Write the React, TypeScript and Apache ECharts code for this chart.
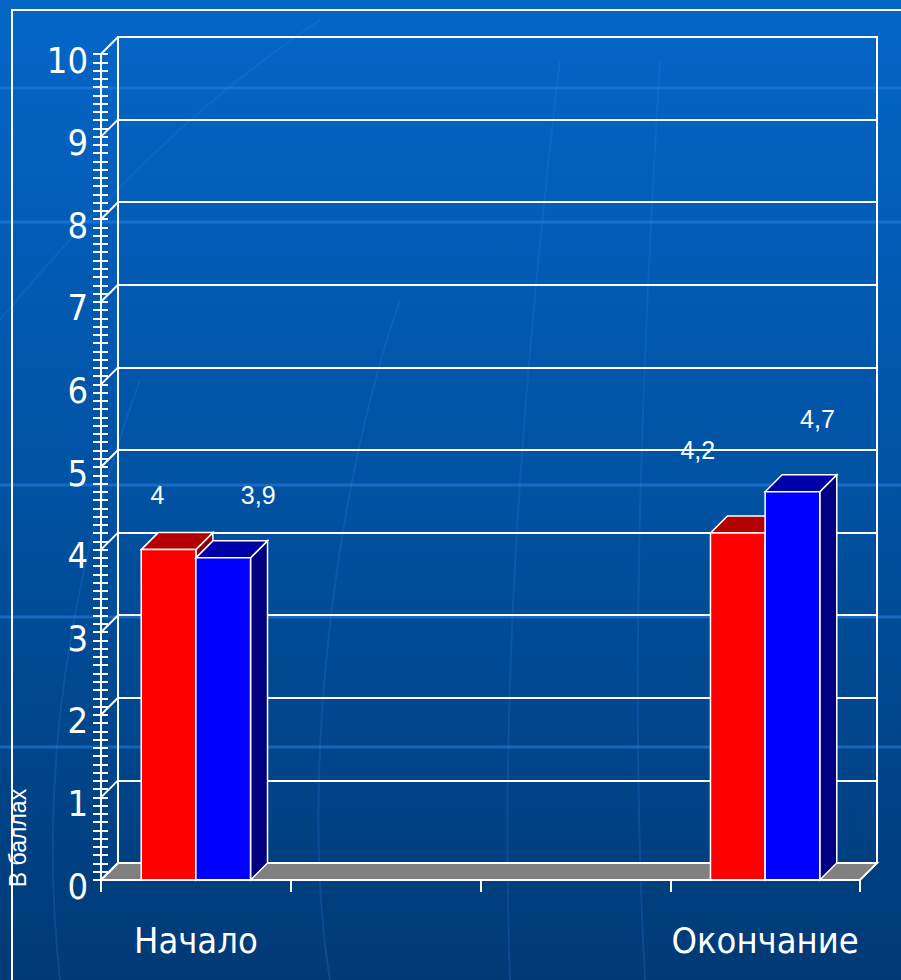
import React, { useEffect, useRef } from "react";
import * as echarts from "echarts";

// ---- data ----
const categories = ["Начало", "", "", "Окончание"];
const redValues: (number | null)[] = [4, null, null, 4.2];
const blueValues: (number | null)[] = [3.9, null, null, 4.7];
const yAxisTitle = "В баллах";

// ---- layout / style ----
const DEPTH = 17;
const NARROW = "'Liberation Sans Narrow', 'DejaVu Sans Condensed', 'Arial Narrow', sans-serif";
const ARIAL = "'Liberation Sans', Arial, sans-serif";
// hand-placed label nudges (pixels, relative to bar's top-front centre)
const redLabelDx = [-11, 0, 0, -40];
const redLabelDy = [-55, 0, 0, -83];
const blueLabelDx = [35, 0, 0, 25];
const blueLabelDy = [-63, 0, 0, -73];

const fmt = (v: number) => String(v).replace(".", ",");

function barSeries(
  name: string,
  values: (number | null)[],
  side: number,
  front: string,
  top: string,
  sideColor: string,
  dx: number[],
  dy: number[]
) {
  const data = values
    .map((v, i) => (v == null ? null : [i, v]))
    .filter((d) => d !== null);
  return {
    name,
    type: "custom",
    xAxisIndex: 0,
    yAxisIndex: 0,
    z: 5,
    data,
    renderItem: (params: any, api: any) => {
      const cat = api.value(0);
      const val = api.value(1);
      const p = api.coord([cat, val]);
      const p0 = api.coord([cat, 0]);
      const band = api.size([1, 0])[0];
      const w = band * 0.288;
      const cx = p[0];
      const yT = p[1];
      const yB = p0[1];
      const x0 = side === 0 ? cx - w : cx;
      const d = DEPTH;
      const stroke = { stroke: "#ffffff", lineWidth: 1.5 };
      return {
        type: "group",
        children: [
          {
            type: "polygon",
            shape: { points: [[x0 + w, yT], [x0 + w + d, yT - d], [x0 + w + d, yB - d], [x0 + w, yB]] },
            style: { fill: sideColor, ...stroke },
          },
          {
            type: "polygon",
            shape: { points: [[x0, yT], [x0 + d, yT - d], [x0 + w + d, yT - d], [x0 + w, yT]] },
            style: { fill: top, ...stroke },
          },
          {
            type: "rect",
            shape: { x: x0, y: yT, width: w, height: yB - yT },
            style: { fill: front, ...stroke },
          },
          {
            type: "text",
            style: {
              text: fmt(val),
              x: x0 + w / 2 + dx[cat],
              y: yT + dy[cat],
              fill: "#ffffff",
              fontSize: 25,
              fontFamily: ARIAL,
              align: "center",
              verticalAlign: "middle",
            },
          },
        ],
      };
    },
  };
}

export default function App() {
  const ref = useRef<HTMLDivElement>(null);
  useEffect(() => {
    if (!ref.current) return;
    const chart = echarts.init(ref.current, undefined, { renderer: "svg" });

    const frameSeries = {
      type: "custom",
      xAxisIndex: 0,
      yAxisIndex: 0,
      z: 3,
      silent: true,
      data: [[0, 0]],
      renderItem: (params: any, api: any) => {
        const cs = params.coordSys;
        const left = cs.x;
        const right = cs.x + cs.width;
        const bottom = cs.y + cs.height;
        const d = DEPTH;
        const children: any[] = [
          {
            type: "polygon",
            shape: { points: [[left, bottom], [right, bottom], [right + d, bottom - d], [left + d, bottom - d]] },
            style: { fill: "#808080", stroke: "#ffffff", lineWidth: 2 },
          },
        ];
        for (let k = 0; k <= 10; k++) {
          const y = api.coord([0, k])[1];
          children.push({
            type: "line",
            shape: { x1: left, y1: y, x2: left + d, y2: y - d },
            style: { stroke: "#ffffff", lineWidth: 2 },
          });
        }
        return { type: "group", children };
      },
    };

    const decoLines = [88, 222, 485, 617, 747].map((y) => ({
      type: "line",
      silent: true,
      z: -10,
      shape: { x1: 0, y1: y, x2: 901, y2: y },
      style: { stroke: "rgba(40,130,230,0.55)", lineWidth: 3 },
    }));
    const decoCurves = [
      { x1: 60, y1: 980, cpx1: 40, cpy1: 800, cpx2: 60, cpy2: 600, x2: 140, y2: 380 },
      { x1: 645, y1: 980, cpx1: 630, cpy1: 700, cpx2: 640, cpy2: 400, x2: 660, y2: 60 },
      { x1: 510, y1: 980, cpx1: 500, cpy1: 700, cpx2: 520, cpy2: 400, x2: 560, y2: 60 },
      { x1: 0, y1: 320, cpx1: 100, cpy1: 200, cpx2: 200, cpy2: 100, x2: 320, y2: 20 },
      { x1: 330, y1: 980, cpx1: 300, cpy1: 800, cpx2: 330, cpy2: 500, x2: 400, y2: 300 },
    ].map((s) => ({
      type: "bezierCurve",
      silent: true,
      z: -10,
      shape: s,
      style: { stroke: "rgba(40,130,230,0.22)", lineWidth: 2, fill: "none" },
    }));

    chart.setOption({
      animation: false,
      backgroundColor: new echarts.graphic.LinearGradient(0, 0, 0, 1, [
        { offset: 0, color: "#0566c8" },
        { offset: 0.5, color: "#0052a2" },
        { offset: 1, color: "#003a76" },
      ]),
      graphic: [
        ...decoLines,
        ...decoCurves,
        {
          type: "polyline",
          silent: true,
          z: 100,
          shape: { points: [[12, 980], [12, 10], [901, 10]] },
          style: { stroke: "#ffffff", lineWidth: 2, fill: "none" },
        },
        {
          type: "text",
          silent: true,
          z: 100,
          x: 18,
          y: 838,
          rotation: Math.PI / 2,
          style: {
            text: yAxisTitle,
            fill: "#ffffff",
            fontSize: 23,
            fontFamily: ARIAL,
            align: "center",
            verticalAlign: "middle",
          },
        },
      ],
      grid: [
        { left: 101, top: 54, width: 759, height: 826, show: false },
        {
          left: 101 + DEPTH,
          top: 54 - DEPTH,
          width: 759,
          height: 826,
          show: true,
          borderColor: "#ffffff",
          borderWidth: 2,
          backgroundColor: "transparent",
          z: 1,
        },
      ],
      xAxis: [
        {
          type: "category",
          gridIndex: 0,
          data: categories,
          boundaryGap: true,
          z: 6,
          axisLine: { show: true, lineStyle: { color: "#ffffff", width: 2 } },
          axisTick: { show: true, length: 12, interval: 0, lineStyle: { color: "#ffffff", width: 2 } },
          axisLabel: {
            interval: 0,
            color: "#ffffff",
            fontSize: 36,
            fontFamily: NARROW,
            margin: 42,
          },
          splitLine: { show: false },
        },
        {
          type: "category",
          gridIndex: 1,
          data: categories,
          show: false,
        },
      ],
      yAxis: [
        {
          type: "value",
          gridIndex: 0,
          position: "left",
          offset: 0,
          min: 0,
          max: 10,
          interval: 1,
          z: 6,
          axisLine: { show: true, lineStyle: { color: "#ffffff", width: 2 } },
          axisTick: { show: true, length: 8, lineStyle: { color: "#ffffff", width: 2 } },
          minorTick: { show: true, splitNumber: 10, length: 8, lineStyle: { color: "#ffffff", width: 2 } },
          axisLabel: {
            color: "#ffffff",
            fontSize: 36,
            fontFamily: NARROW,
            margin: 13,
            verticalAlign: "top",
            lineHeight: 12,
          },
          splitLine: { show: false },
        },
        {
          type: "value",
          gridIndex: 0,
          position: "left",
          offset: 0,
          min: 0,
          max: 10,
          interval: 1,
          z: 6,
          axisLine: { show: false },
          axisTick: { show: true, inside: true, length: 7, lineStyle: { color: "#ffffff", width: 2 } },
          minorTick: { show: true, splitNumber: 10, length: 7, lineStyle: { color: "#ffffff", width: 2 } },
          axisLabel: { show: false },
          splitLine: { show: false },
        },
        {
          type: "value",
          gridIndex: 1,
          position: "left",
          min: 0,
          max: 10,
          interval: 1,
          axisLine: { show: false },
          axisTick: { show: false },
          axisLabel: { show: false },
          splitLine: { show: true, lineStyle: { color: "#ffffff", width: 2 } },
        },
      ],
      series: [
        frameSeries,
        barSeries("Ряд 1", redValues, 0, "#ff0000", "#b40000", "#8a0000", redLabelDx, redLabelDy),
        barSeries("Ряд 2", blueValues, 1, "#0000ff", "#0000aa", "#000080", blueLabelDx, blueLabelDy),
      ],
    });
    return () => chart.dispose();
  }, []);
  return (
    <div
      ref={ref}
      style={{ position: "fixed", left: 0, top: 0, width: 901, height: 980 }}
    />
  );
}
